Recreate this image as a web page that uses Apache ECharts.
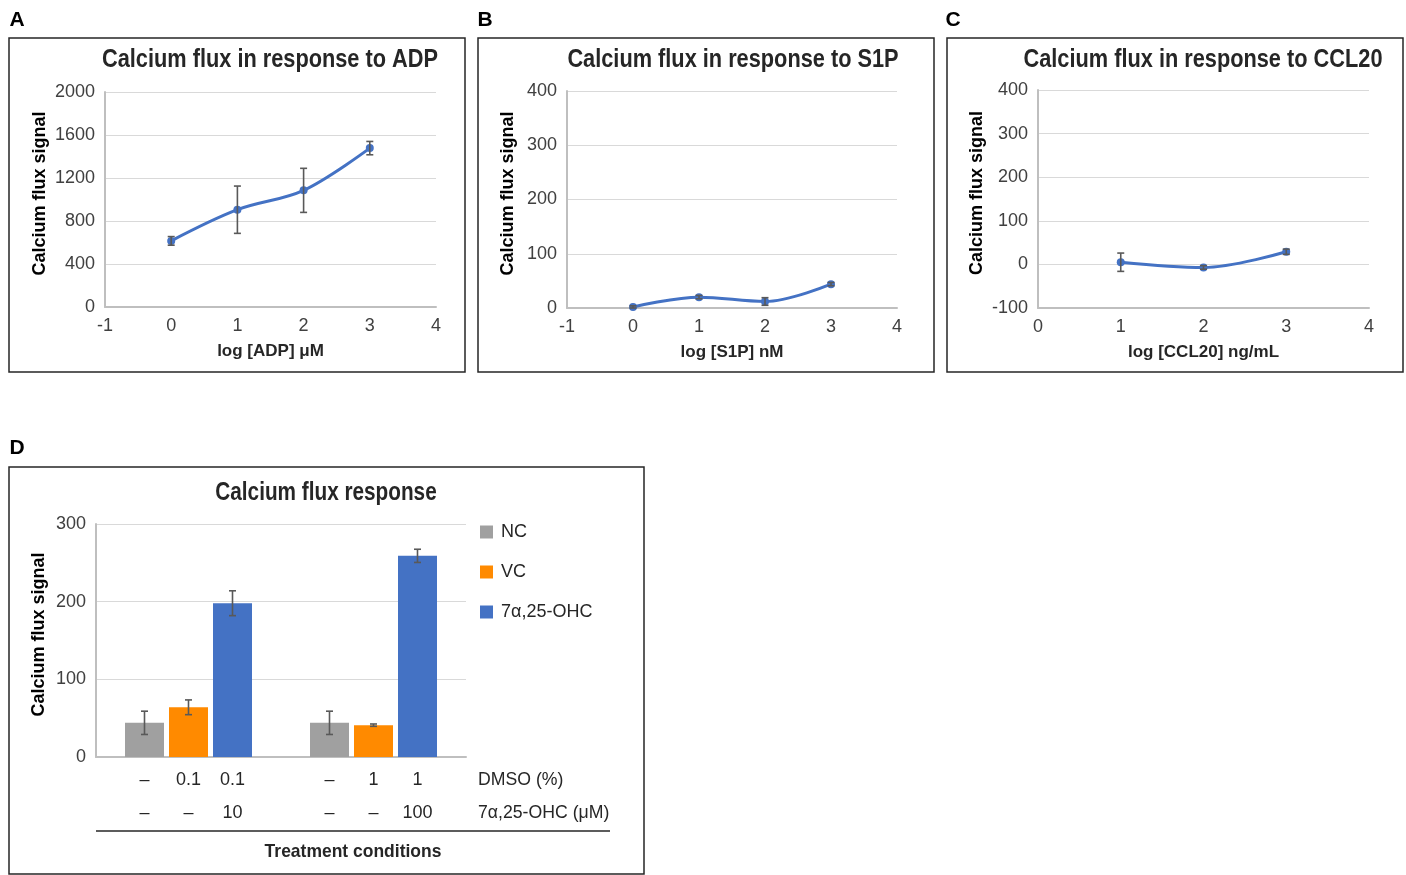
<!DOCTYPE html>
<html>
<head>
<meta charset="utf-8">
<script src="https://cdn.jsdelivr.net/npm/echarts@6/dist/echarts.min.js"></script>
<style>
  html, body { margin: 0; padding: 0; background: #fff; }
  #chart { width: 1406px; height: 875px; }
</style>
</head>
<body>
<div id="chart"></div>
<script>
// panel A: ADP
const adpX = [0, 1, 2, 3]
const adpY = [615, 905, 1085, 1478]
const adpErr = [40, 220, 205, 62]
// panel B: S1P
const s1pX = [0, 1, 2, 3]
const s1pY = [2, 20, 12, 44]
const s1pErr = [2, 3, 7, 3]
// panel C: CCL20
const cclX = [1, 2, 3]
const cclY = [5, -7, 29]
const cclErr = [21, 4, 6]
// panel D: bars
const groups = ['0.1% DMSO', '1% DMSO']
const ncVals = [44, 44]
const ncErr = [15, 15]
const vcVals = [64, 41]
const vcErr = [9.5, 1.5]
const ohcVals = [198, 259]
const ohcErr = [16, 8.5]
const ncDmso = ['–', '–']
const vcDmso = ['0.1', '1']
const ohcDmso = ['0.1', '1']
const ncConc = ['–', '–']
const vcConc = ['–', '–']
const ohcConc = ['10', '100']

const FONT = "'Liberation Sans', Arial, sans-serif"
const BLUE = '#4472C4'
const ERR = '#595959'
const BAR_W = 39
const BAR_GAP = 5

const zip = (xs, ys) => xs.map((x, i) => [x, ys[i]])
const zip3 = (xs, ys, es) => xs.map((x, i) => [x, ys[i], es[i]])

function errBars(offset) {
  return function (params, api) {
    const x = api.value(0), y = api.value(1), e = api.value(2)
    const hi = api.coord([x, y + e])
    const lo = api.coord([x, y - e])
    const px = hi[0] + offset
    const cap = 3.5
    const st = { stroke: ERR, lineWidth: 1.6 }
    return {
      type: 'group',
      children: [
        { type: 'line', shape: { x1: px, y1: hi[1], x2: px, y2: lo[1] }, style: st },
        { type: 'line', shape: { x1: px - cap, y1: hi[1], x2: px + cap, y2: hi[1] }, style: st },
        { type: 'line', shape: { x1: px - cap, y1: lo[1], x2: px + cap, y2: lo[1] }, style: st }
      ]
    }
  }
}

function valueX(idx, min, name) {
  return {
    gridIndex: idx, type: 'value', min: min, max: 4, interval: 1,
    name: name, nameLocation: 'middle', nameGap: 36,
    nameTextStyle: { fontFamily: FONT, fontSize: 17, fontWeight: 'bold', color: '#262626' },
    axisLine: { onZero: false, lineStyle: { color: '#bfbfbf', width: 2 } },
    axisTick: { show: false },
    splitLine: { show: false },
    axisLabel: { fontFamily: FONT, fontSize: 18, color: '#404040', margin: 10 }
  }
}

function valueY(idx, min, max, interval, gap) {
  return {
    gridIndex: idx, type: 'value', min: min, max: max, interval: interval,
    name: 'Calcium flux signal', nameLocation: 'middle', nameGap: gap,
    nameTextStyle: { fontFamily: FONT, fontSize: 18, fontWeight: 'bold', color: '#000', padding: [0, 0, 0, 12] },
    axisLine: { show: true, onZero: false, lineStyle: { color: '#bfbfbf', width: 2 } },
    axisTick: { show: false },
    splitLine: { lineStyle: { color: '#d9d9d9', width: 1 } },
    axisLabel: { fontFamily: FONT, fontSize: 18, color: '#404040', margin: 10, formatter: v => String(v) }
  }
}

function lineSeries(idx, xs, ys) {
  return {
    type: 'line', xAxisIndex: idx, yAxisIndex: idx,
    data: zip(xs, ys), smooth: 0.35,
    symbol: 'circle', symbolSize: 8,
    lineStyle: { color: BLUE, width: 3 },
    itemStyle: { color: BLUE },
    z: 3
  }
}

function errSeries(idx, xs, ys, es, offset) {
  return {
    type: 'custom', xAxisIndex: idx, yAxisIndex: idx,
    data: zip3(xs, ys, es), encode: { x: 0, y: 1 },
    renderItem: errBars(offset), z: 4, silent: true
  }
}

function barSeries(name, vals, color, row1, row2) {
  return {
    name: name, type: 'bar', xAxisIndex: 3, yAxisIndex: 3,
    data: vals, barWidth: BAR_W, barGap: (BAR_GAP / BAR_W * 100) + '%',
    itemStyle: { color: color },
    label: {
      show: true, position: 'bottom', distance: 7,
      formatter: p => '{a|' + row1[p.dataIndex] + '}\n{a|' + row2[p.dataIndex] + '}',
      rich: { a: { fontFamily: FONT, fontSize: 18, color: '#262626', lineHeight: 33, align: 'center' } }
    }
  }
}

// text with horizontal squeeze, to mimic the narrow face of the original
function txt(x, y, text, size, weight, align, sx, color) {
  return {
    type: 'text', x: x, y: y, scaleX: sx || 1, silent: true,
    style: {
      x: 0, y: 0,
      text: text, fontFamily: FONT, fontSize: size, fontWeight: weight || 'normal',
      fill: color || '#262626', align: align || 'center', verticalAlign: 'middle'
    }
  }
}

function box(x, y, w, h) {
  return {
    type: 'rect', shape: { x: x, y: y, width: w, height: h }, silent: true, z: -1,
    style: { fill: 'none', stroke: '#262626', lineWidth: 1.5 }
  }
}

const chart = echarts.init(document.getElementById('chart'))
chart.setOption({
  animation: false,
  backgroundColor: '#fff',
  grid: [
    { left: 105, top: 92, width: 331, height: 215 },
    { left: 567, top: 91, width: 330, height: 217 },
    { left: 1038, top: 90, width: 331, height: 218 },
    { left: 96, top: 524, width: 370, height: 233 }
  ],
  xAxis: [
    valueX(0, -1, 'log [ADP] μM'),
    valueX(1, -1, 'log [S1P] nM'),
    valueX(2, 0, 'log [CCL20] ng/mL'),
    {
      gridIndex: 3, type: 'category', data: groups,
      axisLine: { lineStyle: { color: '#bfbfbf', width: 2 } },
      axisTick: { show: false },
      axisLabel: { show: false }
    }
  ],
  yAxis: [
    valueY(0, 0, 2000, 400, 56),
    valueY(1, 0, 400, 100, 50),
    valueY(2, -100, 400, 100, 52),
    valueY(3, 0, 300, 100, 48)
  ],
  legend: {
    orient: 'vertical', left: 475, top: 518, itemGap: 22,
    itemWidth: 13, itemHeight: 13, icon: 'rect',
    textStyle: { fontFamily: FONT, fontSize: 18, color: '#262626', padding: [0, 0, 0, 3] },
    data: ['NC', 'VC', '7α,25-OHC']
  },
  series: [
    lineSeries(0, adpX, adpY),
    errSeries(0, adpX, adpY, adpErr, 0),
    lineSeries(1, s1pX, s1pY),
    errSeries(1, s1pX, s1pY, s1pErr, 0),
    lineSeries(2, cclX, cclY),
    errSeries(2, cclX, cclY, cclErr, 0),
    barSeries('NC', ncVals, '#A0A0A0', ncDmso, ncConc),
    barSeries('VC', vcVals, '#FF8A00', vcDmso, vcConc),
    barSeries('7α,25-OHC', ohcVals, BLUE, ohcDmso, ohcConc),
    {
      type: 'custom', xAxisIndex: 3, yAxisIndex: 3, z: 4, silent: true,
      data: zip3([0, 1], ncVals, ncErr), encode: { x: 0, y: 1 },
      renderItem: errBars(-(BAR_W + BAR_GAP))
    },
    {
      type: 'custom', xAxisIndex: 3, yAxisIndex: 3, z: 4, silent: true,
      data: zip3([0, 1], vcVals, vcErr), encode: { x: 0, y: 1 },
      renderItem: errBars(0)
    },
    {
      type: 'custom', xAxisIndex: 3, yAxisIndex: 3, z: 4, silent: true,
      data: zip3([0, 1], ohcVals, ohcErr), encode: { x: 0, y: 1 },
      renderItem: errBars(BAR_W + BAR_GAP)
    }
  ],
  graphic: [
    box(9, 38, 456, 334),
    box(478, 38, 456, 334),
    box(947, 38, 456, 334),
    box(9, 467, 635, 407),
    txt(17, 20, 'A', 21, 'bold', 'center', 1, '#000'),
    txt(485, 20, 'B', 21, 'bold', 'center', 1, '#000'),
    txt(953, 20, 'C', 21, 'bold', 'center', 1, '#000'),
    txt(17, 448, 'D', 21, 'bold', 'center', 1, '#000'),
    txt(270, 60, 'Calcium flux in response to ADP', 25, 'bold', 'center', 0.87),
    txt(733, 60, 'Calcium flux in response to S1P', 25, 'bold', 'center', 0.87),
    txt(1203, 60, 'Calcium flux in response to CCL20', 25, 'bold', 'center', 0.87),
    txt(326, 493, 'Calcium flux response', 25, 'bold', 'center', 0.83),
    txt(478, 780, 'DMSO (%)', 19, 'normal', 'left', 0.93),
    txt(478, 813, '7α,25-OHC (μM)', 19, 'normal', 'left', 0.93),
    {
      type: 'line', silent: true,
      shape: { x1: 96, y1: 831, x2: 610, y2: 831 },
      style: { stroke: '#262626', lineWidth: 1.5 }
    },
    txt(353, 852, 'Treatment conditions', 19, 'bold', 'center', 0.92)
  ]
})
</script>
</body>
</html>
